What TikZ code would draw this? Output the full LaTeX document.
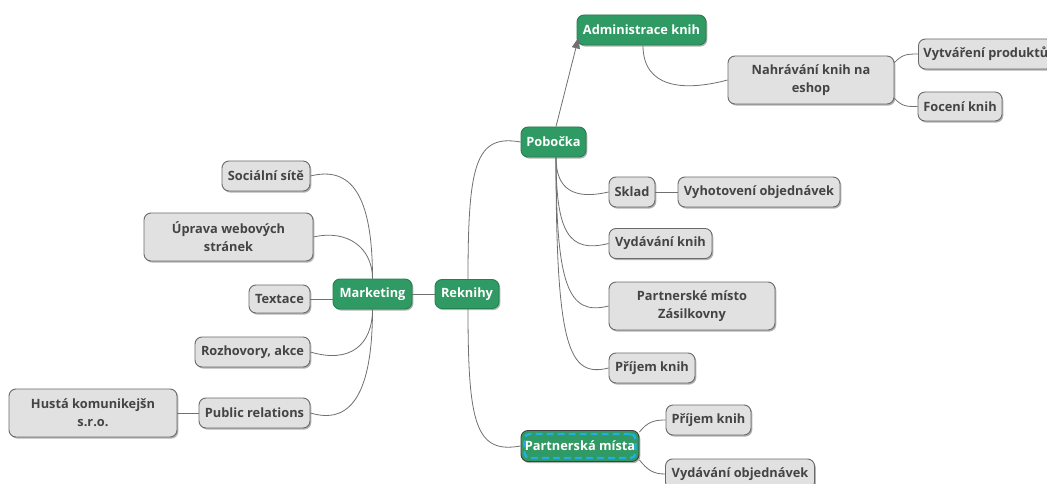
\documentclass[tikz,border=0pt]{standalone}
\usepackage{fontspec}
\setmainfont{Open Sans}
\usetikzlibrary{shadows,arrows.meta}
\definecolor{mgreen}{HTML}{2F9A63}
\definecolor{mgreenb}{HTML}{24804F}
\definecolor{mgray}{HTML}{E1E1E1}
\definecolor{mborder}{HTML}{6A6A6A}
\definecolor{mtext}{HTML}{444444}
\definecolor{mline}{HTML}{707070}
\definecolor{mdash}{HTML}{22AEE0}
\begin{document}
\begin{tikzpicture}[x=1pt,y=-1pt,
  base/.style={rounded corners=7pt, inner sep=0pt, align=center,
    font=\bfseries\fontsize{12.8}{18}\selectfont,
    drop shadow={shadow xshift=1.3pt,shadow yshift=-1.6pt,opacity=0.3,fill=black}},
  topic/.style={base, fill=mgray, draw=mborder, line width=0.9pt, text=mtext},
  main/.style={base, fill=mgreen, draw=mgreenb, line width=0.9pt, text=white},
  dashring/.style={draw=mdash, line width=2.4pt, dash pattern=on 7pt off 4pt, rounded corners=5pt, inner sep=0pt},
  conn/.style={draw=mline, line width=0.8pt}]
\useasboundingbox (0,0) rectangle (1047,484);
\fill[white] (0,0) rectangle (1047,484);

% nodes
\node[main, minimum width=129pt, minimum height=30pt] (adm) at (641.5,30) {Administrace knih};
\node[topic, minimum width=166pt, minimum height=48pt] (nahr) at (811,80) {Nahrávání knih na\\eshop};
\node[topic, anchor=west, inner xsep=5pt, minimum height=30pt] (vytv) at (918,54) {Vytváření produktů};
\node[topic, minimum width=84pt, minimum height=29pt] (focen) at (960,106.5) {Focení knih};
\node[main, minimum width=65pt, minimum height=30pt] (pob) at (553.5,142) {Pobočka};
\node[topic, minimum width=46pt, minimum height=30pt] (sklad) at (632,192) {Sklad};
\node[topic, minimum width=162pt, minimum height=30pt] (vyhot) at (759,192) {Vyhotovení objednávek};
\node[topic, minimum width=103pt, minimum height=30pt] (vydk) at (660.5,243.5) {Vydávání knih};
\node[topic, minimum width=166pt, minimum height=48pt] (pmz) at (692,306) {Partnerské místo\\Zásilkovny};
\node[topic, minimum width=86pt, minimum height=30pt] (prij1) at (652,368) {Příjem knih};
\node[main, minimum width=64pt, minimum height=29pt] (rek) at (467,294) {Reknihy};
\node[main, minimum width=79pt, minimum height=30pt] (mark) at (372.5,294) {Marketing};
\node[topic, minimum width=88pt, minimum height=30pt] (soc) at (266,176) {Sociální sítě};
\node[topic, minimum width=169pt, minimum height=48pt] (upr) at (228.5,237) {Úprava webových\\stránek};
\node[topic, minimum width=61pt, minimum height=28pt] (textace) at (279.5,299) {Textace};
\node[topic, minimum width=115pt, minimum height=30pt] (roz) at (252.5,352) {Rozhovory, akce};
\node[topic, minimum width=111pt, minimum height=30pt] (pr) at (254.5,413) {Public relations};
\node[topic, minimum width=168pt, minimum height=48pt] (husta) at (93,413) {Hustá komunikejšn\\s.r.o.};
\node[main, draw=black!75, minimum width=118pt, minimum height=31pt] (pm) at (580,446) {};
\node[dashring, minimum width=111pt, minimum height=24pt] (pmring) at (pm.center) {};
\node[text=white, inner sep=0pt, font=\bfseries\fontsize{12.8}{18}\selectfont] (pmlabel) at (pm.center) {Partnerská místa};
\node[topic, minimum width=85pt, minimum height=30pt] (prij2) at (708.5,420) {Příjem knih};
\node[topic, minimum width=149pt, minimum height=30pt] (vydob) at (740,474) {Vydávání objednávek};

% connectors
\draw[conn] (mark.east) -- (rek.west);
\draw[conn] (sklad.east) -- (vyhot.west);
\draw[conn] (husta.east) -- (pr.west);
\draw[conn] (textace.east) -- (textace.east -| mark.west);

\draw[conn] ([xshift=1pt]rek.north) .. controls +(0,-115) and +(-45,-8) .. (pob.west);
\draw[conn] ([xshift=1pt]rek.south) .. controls +(0,115) and +(-45,8) .. (pm.west);

\draw[conn] (mark.north) .. controls +(0,-85) and +(40,-10) .. (soc.east);
\draw[conn] (mark.north) .. controls +(0,-30) and +(35,-8) .. (upr.east);
\draw[conn] (mark.south) .. controls +(0,35) and +(40,12) .. (roz.east);
\draw[conn] (mark.south) .. controls +(0,85) and +(40,12) .. (pr.east);

\draw[conn] ([xshift=2.5pt]pob.south) .. controls +(0,32) and +(-35,8) .. (sklad.west);
\draw[conn] ([xshift=2.5pt]pob.south) .. controls +(0,75) and +(-40,10) .. (vydk.west);
\draw[conn] ([xshift=2.5pt]pob.south) .. controls +(0,130) and +(-40,10) .. (pmz.west);
\draw[conn] ([xshift=2.5pt]pob.south) .. controls +(0,190) and +(-40,10) .. (prij1.west);

\draw[conn, -{Triangle[length=11pt,width=8pt]}] ([xshift=2.5pt]pob.north) -- ([xshift=2pt,yshift=8pt]adm.south west);
\draw[conn] ([xshift=1.5pt]adm.south) .. controls +(0,42) and +(-45,12) .. (nahr.west);
\draw[conn] ([yshift=-7pt]nahr.north east) .. controls +(8,-8) and +(-12,0) .. (vytv.west);
\draw[conn] ([yshift=6pt]nahr.south east) .. controls +(8,8) and +(-12,0) .. (focen.west);

\draw[conn] ([yshift=-2pt]pm.north east) .. controls +(8,-10) and +(-12,0) .. (prij2.west);
\draw[conn] ([yshift=2pt]pm.south east) .. controls +(8,10) and +(-12,0) .. (vydob.west);
\end{tikzpicture}
\end{document}
